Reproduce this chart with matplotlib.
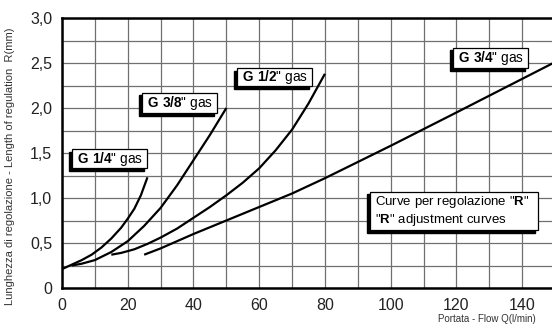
import matplotlib.pyplot as plt
from matplotlib.patches import Rectangle
from matplotlib.ticker import MultipleLocator

plt.rcParams['font.family'] = ['Liberation Sans', 'DejaVu Sans']
plt.rcParams['mathtext.fontset'] = 'custom'
plt.rcParams['mathtext.rm'] = 'Liberation Sans'
plt.rcParams['mathtext.bf'] = 'Liberation Sans:bold'

# curves: flow Q (l/min) -> regulation length R (mm)
q_14 = [0, 3, 6, 9, 12, 15, 18, 20, 22, 24, 26]
r_14 = [0.21, 0.26, 0.31, 0.37, 0.45, 0.55, 0.67, 0.77, 0.88, 1.03, 1.23]
q_38 = [3, 6, 10, 15, 20, 25, 30, 35, 40, 45, 50]
r_38 = [0.25, 0.27, 0.31, 0.40, 0.52, 0.69, 0.89, 1.14, 1.42, 1.70, 2.0]
q_12 = [15, 18, 22, 26, 30, 35, 40, 45, 50, 55, 60, 65, 70, 75, 80]
r_12 = [0.37, 0.39, 0.43, 0.49, 0.56, 0.66, 0.78, 0.90, 1.03, 1.17, 1.33,
        1.53, 1.76, 2.05, 2.38]
q_34 = [25, 30, 35, 40, 50, 60, 70, 80, 100, 120, 150]
r_34 = [0.37, 0.44, 0.52, 0.60, 0.75, 0.90, 1.05, 1.22, 1.58, 1.95, 2.51]

x_ticks = [0, 20, 40, 60, 80, 100, 120, 140]
y_ticks = [0, 0.5, 1.0, 1.5, 2.0, 2.5, 3.0]
y_ticklabels = ['0', '0,5', '1,0', '1,5', '2,0', '2,5', '3,0']

fig = plt.figure(figsize=(5.52, 3.26), dpi=100)
ax = fig.add_axes([62 / 552, 38 / 326, 493 / 552, 270 / 326])

for q, r in [(q_14, r_14), (q_38, r_38), (q_12, r_12), (q_34, r_34)]:
    ax.plot(q, r, color='black', lw=1.6, solid_capstyle='butt', zorder=3)

ax.set_xlim(0, 150)
ax.set_ylim(0, 3.0)
ax.set_xticks(x_ticks)
ax.set_yticks(y_ticks)
ax.set_yticklabels(y_ticklabels)
ax.xaxis.set_minor_locator(MultipleLocator(10))
ax.yaxis.set_minor_locator(MultipleLocator(0.25))
ax.grid(True, which='both', color='#707070', lw=0.9, zorder=1)
ax.set_axisbelow(True)
ax.tick_params(which='both', length=0, labelsize=11.5, colors='#222222')
ax.tick_params(axis='y', pad=7)
ax.tick_params(axis='x', pad=7)
for s in ['left', 'bottom', 'top']:
    ax.spines[s].set_linewidth(1.8)
ax.spines['right'].set_visible(False)


def label_box(x0, y0, x1, y1, txt, size=9.8):
    # shadow offset to the lower left, then the white framed box
    ax.add_patch(Rectangle((x0 - 0.9, y0 - 0.03), x1 - x0, y1 - y0,
                           facecolor='black', edgecolor='black', zorder=4))
    ax.add_patch(Rectangle((x0, y0), x1 - x0, y1 - y0, facecolor='white',
                           edgecolor='black', lw=0.9, zorder=5))
    ax.text(x0 + 1.6, (y0 + y1) / 2, txt, fontsize=size, va='center',
            ha='left', zorder=6, linespacing=1.1)


label_box(3.0, 1.33, 25.9, 1.545, r'$\mathbf{G\ 1/4}$" gas')
label_box(24.3, 1.94, 47.2, 2.17, r'$\mathbf{G\ 3/8}$" gas')
label_box(53.2, 2.24, 76.1, 2.44, r'$\mathbf{G\ 1/2}$" gas')
label_box(119.0, 2.44, 141.8, 2.67, r'$\mathbf{G\ 3/4}$" gas')
label_box(93.7, 0.64, 144.8, 1.07,
          'Curve per regolazione "$\\mathbf{R}$"\n"$\\mathbf{R}$" adjustment curves',
          size=9.5)

fig.text(10 / 552, 0.49, 'Lunghezza di regolazione - Length of regulation  R(mm)',
         rotation=90, ha='center', va='center', fontsize=8, color='#333333')
fig.text(438 / 552, 2 / 326, 'Portata - Flow Q(l/min)', ha='left', va='bottom',
         fontsize=7, color='#333333')

fig.savefig('out.png', dpi=100)
